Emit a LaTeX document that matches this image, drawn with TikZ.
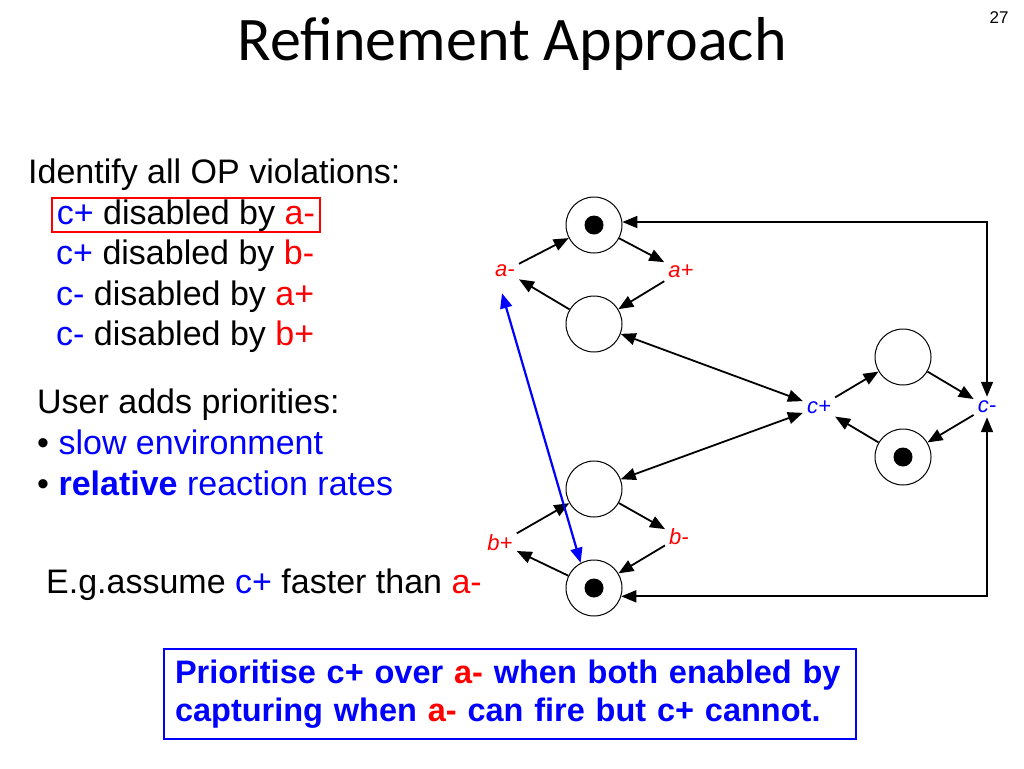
\documentclass[tikz,border=0pt]{standalone}
\usepackage{fontspec}
\setmainfont{Liberation Sans}
\newfontfamily\titlefont{Carlito}
\usetikzlibrary{arrows.meta}
\begin{document}
\begin{tikzpicture}[
            x=1pt, y=-1pt,
            >={Triangle[length=15pt,width=12pt]},
            place/.style={circle,draw,line width=1pt,minimum size=56pt,inner sep=0pt},
            tok/.style={place,path picture={\fill (path picture bounding box.center) circle (9.5pt);}},
            trans/.style={text=red,font=\fontsize{22}{26}\selectfont\itshape,inner sep=4pt},
            arc/.style={line width=1.8pt},
            item/.style={anchor=base west,inner xsep=5pt,inner ysep=1pt,font=\fontsize{34}{40}\selectfont}
        ]
        \useasboundingbox (0,0) rectangle (1024,768);
        \node[anchor=base,font=\fontsize{62}{70}\selectfont\titlefont] (title) at (512,60) {Refinement Approach};
        \node[font=\fontsize{17}{20}\selectfont] (num) at (999,18) {27};
        \node[item] (head) at (23,183) {Identify all OP violations:};
        \node[item,draw=red,line width=1.8pt] (v1) at (51,224) {\textcolor{blue}{c+} disabled by \textcolor{red}{a-}};
        \node[item] (v2) at (51,264) {\textcolor{blue}{c+} disabled by \textcolor{red}{b-}};
        \node[item] (v3) at (51,305) {\textcolor{blue}{c-} disabled by \textcolor{red}{a+}};
        \node[item] (v4) at (51,345) {\textcolor{blue}{c-} disabled by \textcolor{red}{b+}};
        \node[item] (user) at (32,413) {User adds priorities:};
        \node[item] (slow) at (32,454) {\textbullet\ \textcolor{blue}{slow environment}};
        \node[item] (rel) at (32,495) {\textbullet\ \textcolor{blue}{\textbf{relative} reaction rates}};
        \node[item] (eg) at (41,593) {E.g.assume \textcolor{blue}{c+} faster than \textcolor{red}{a-}};
        \node[tok] (p1) at (594,225) {};
        \node[place] (p2) at (594,324) {};
        \node[place] (p3) at (594,489) {};
        \node[tok] (p4) at (594,588) {};
        \node[place] (p5) at (903,357) {};
        \node[tok] (p6) at (903,457) {};
        \node[trans] (am) at (505,271) {a-};
        \node[trans] (ap) at (681,271) {a+};
        \node[trans] (bp) at (500,543) {b+};
        \node[trans] (bm) at (679,537) {b-};
        \node[trans,text=blue] (cp) at (819,407) {c+};
        \node[trans,text=blue] (cm) at (987,407) {c-};
        \draw[arc,->] (am) -- (p1);
        \draw[arc,->] (p1) -- (ap);
        \draw[arc,->] (ap) -- (p2);
        \draw[arc,->] (p2) -- (am);
        \draw[arc,<->] (p2) -- (cp);
        \draw[arc,<->] (p3) -- (cp);
        \draw[arc,->] (cp) -- (p5);
        \draw[arc,->] (p5) -- (cm);
        \draw[arc,->] (cm) -- (p6);
        \draw[arc,->] (p6) -- (cp);
        \draw[arc,->] (bp) -- (p3);
        \draw[arc,->] (p3) -- (bm);
        \draw[arc,->] (bm) -- (p4);
        \draw[arc,->] (p4) -- (bp);
        \draw[arc,<->] (p1.6) -| (cm);
        \draw[arc,<->] (p4.-17) -| (cm);
        \draw[arc,<->,blue,line width=2.2pt] ([xshift=-3pt,yshift=-12pt]am.south) -- (p4.118);
        \node[anchor=north west,draw=blue,line width=2pt,text=blue,align=left,
            text width=670pt,inner xsep=11pt,minimum width=692pt,minimum height=90pt,
            font=\fontsize{32.5}{38}\selectfont\bfseries] (rule) at (163,648)
            {Prioritise c+ over \textcolor{red}{a-} when both enabled by\\capturing when \textcolor{red}{a-} can fire but c+ cannot.};
    \end{tikzpicture}
\end{document}
